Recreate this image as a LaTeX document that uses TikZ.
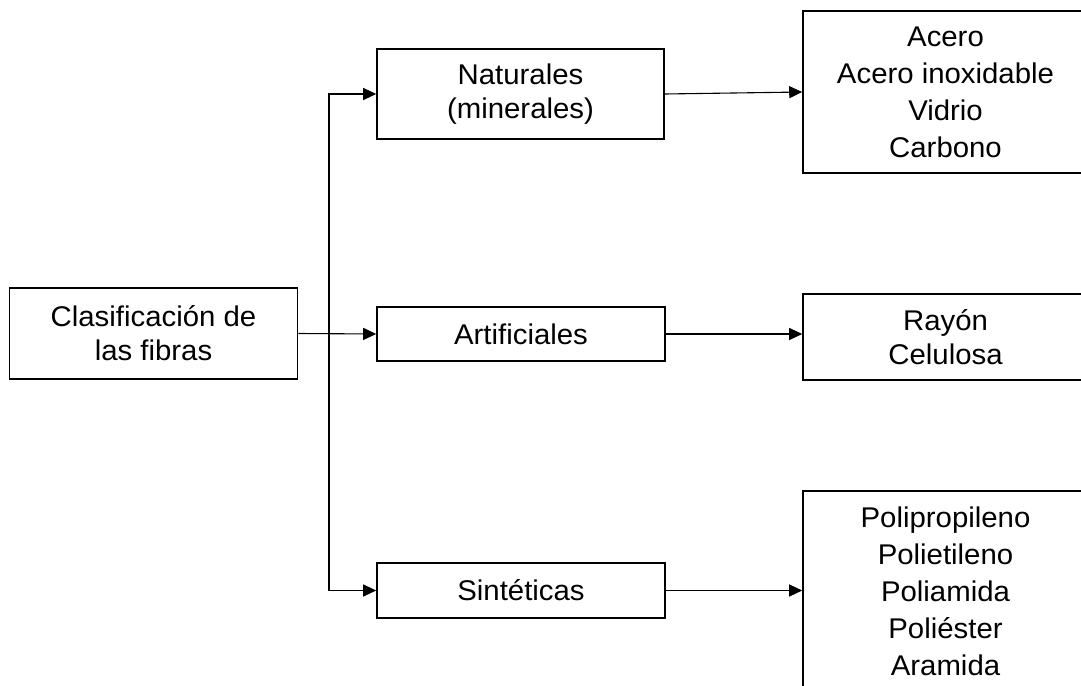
\documentclass[tikz,border=0pt]{standalone}
\usepackage{fontspec}
\setmainfont{Liberation Sans}[FakeStretch=1.03]
\usetikzlibrary{arrows.meta}
\begin{document}
\begin{tikzpicture}[x=1pt,y=-1pt,
  box/.style={draw=black, line width=1.6pt, inner sep=0pt, align=center,
    font=\fontsize{28.5}{37}\selectfont},
  twoline/.style={font=\fontsize{28.5}{34}\selectfont},
  conn/.style={draw=black, line width=1.1pt, -{Triangle[length=13pt,width=12pt]}}]
\clip (0,0) rectangle (1081,685);
\fill[white] (0,0) rectangle (1081,685);
% left column
\node[box, twoline, minimum width=288, minimum height=91] (cl) at (153.5,333.5) {Clasificación de\\las fibras};
% middle column
\node[box, twoline, minimum width=287, minimum height=90] (nat) at (520.5,94) {Naturales\\(minerales)};
\node[box, minimum width=288, minimum height=54] (art) at (521,334) {Artificiales};
\node[box, minimum width=288, minimum height=55] (sin) at (521,590.5) {Sintéticas};
% right column
\node[box, minimum width=285, minimum height=162] (ace) at (945.5,92) {Acero\\Acero inoxidable\\Vidrio\\Carbono};
\node[box, twoline, minimum width=285, minimum height=86] (ray) at (945.5,337) {Rayón\\Celulosa};
\node[box, minimum width=285, minimum height=200] (pol) at (945.5,591) {Polipropileno\\Polietileno\\Poliamida\\Poliéster\\Aramida};
% connectors
\coordinate (jn) at (329,334);
\draw[conn] (cl.east) -- (art.west);
\draw[conn] (jn) |- (nat.west);
\draw[conn] (jn) |- (sin.west);
\draw[conn] (nat.east) -- (ace.west);
\draw[conn] (art.east) -- (art.east -| ray.west);
\draw[conn] (sin.east) -- (sin.east -| pol.west);
\end{tikzpicture}
\end{document}
